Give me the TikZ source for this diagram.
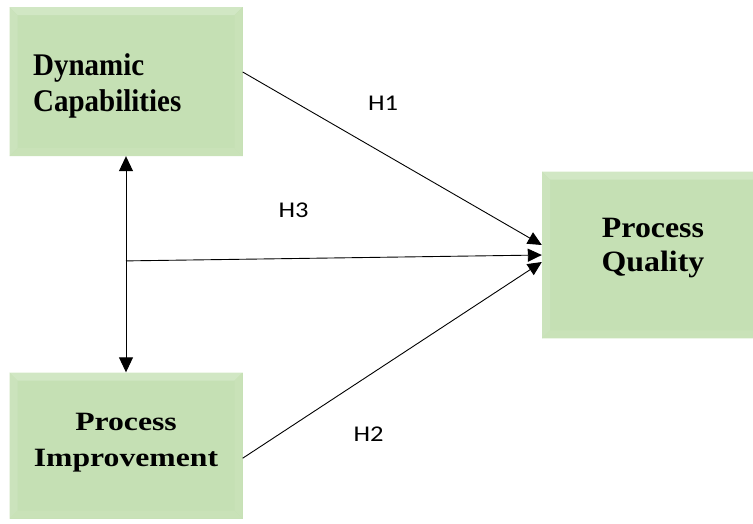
\documentclass[tikz,border=0pt]{standalone}
\usepackage{fontspec}
\usetikzlibrary{arrows.meta,calc}
\newfontfamily\boxfont{Liberation Serif}
\newfontfamily\hypfont{Carlito}
\definecolor{boxgreen}{HTML}{C5E0B4}
\definecolor{bevtop}{HTML}{D1E7C4}
\definecolor{bevside}{HTML}{CBE3BC}
\definecolor{bevlow}{HTML}{C9E2B8}
\tikzset{
  box/.style={fill=boxgreen, draw=none, inner sep=0pt, path picture={
    \fill[bevtop] (path picture bounding box.north west) -- (path picture bounding box.north east)
      -- ([shift={(-8pt,-8pt)}]path picture bounding box.north east) -- ([shift={(8pt,-8pt)}]path picture bounding box.north west) -- cycle;
    \fill[bevside] (path picture bounding box.north west) -- ([shift={(8pt,-8pt)}]path picture bounding box.north west)
      -- ([shift={(8pt,8pt)}]path picture bounding box.south west) -- (path picture bounding box.south west) -- cycle;
    \fill[bevlow] (path picture bounding box.north east) -- ([shift={(-8pt,-8pt)}]path picture bounding box.north east)
      -- ([shift={(-8pt,8pt)}]path picture bounding box.south east) -- (path picture bounding box.south east) -- cycle;
    \fill[bevlow] (path picture bounding box.south west) -- ([shift={(8pt,8pt)}]path picture bounding box.south west)
      -- ([shift={(-8pt,8pt)}]path picture bounding box.south east) -- (path picture bounding box.south east) -- cycle;
  }},
  boxtext/.style={inner sep=0pt, font=\boxfont\bfseries},
  hyp/.style={inner sep=0pt, anchor=base, xscale=1.18, font=\hypfont\fontsize{22.5}{27}\selectfont},
  link/.style={line width=0.9pt, -{Triangle[length=14pt,width=13pt]}},
  twoway/.style={line width=0.9pt, {Triangle[length=15pt,width=14pt]}-{Triangle[length=15pt,width=14pt]}}
}
\begin{document}
\begin{tikzpicture}[x=1pt,y=-1pt]
\clip (0,0) rectangle (753,523);
\useasboundingbox (0,0) rectangle (753,523);

% construct boxes
\node[box, minimum width=233pt, minimum height=149pt] (dc) at (126,81.5) {};
\node[box, minimum width=222pt, minimum height=166.6pt] (pq) at (653,255) {};
\node[box, minimum width=233pt, minimum height=146pt] (pi) at (126,445.5) {};

% box captions
\node[boxtext, anchor=base west, xscale=0.92, font=\boxfont\bfseries\fontsize{31.5}{36}\selectfont] (dc1) at (33,75) {Dynamic};
\node[boxtext, anchor=base west, xscale=0.92, font=\boxfont\bfseries\fontsize{31.5}{36}\selectfont] (dc2) at (33,111.7) {Capabilities};
\node[boxtext, anchor=base, xscale=1.08, font=\boxfont\bfseries\fontsize{29.5}{34}\selectfont] (pq1) at (653,237.3) {Process};
\node[boxtext, anchor=base, xscale=1.08, font=\boxfont\bfseries\fontsize{29.5}{34}\selectfont] (pq2) at (653,271.7) {Quality};
\node[boxtext, anchor=base, xscale=1.2, font=\boxfont\bfseries\fontsize{26.4}{32}\selectfont] (pi1) at (126,430) {Process};
\node[boxtext, anchor=base, xscale=1.2, font=\boxfont\bfseries\fontsize{26.4}{32}\selectfont] (pi2) at (126,466.7) {Improvement};

% correlation between the two antecedents
\draw[twoway] (dc.south) -- (pi.north);
\coordinate (j) at ($(dc.south)!0.4845!(pi.north)$);

% hypothesised paths
\draw[link] ([yshift=9.5pt]dc.east) -- ([yshift=10pt]pq.west);
\draw[link] (j) -- (pq.west);
\draw[link] ([yshift=-12.7pt]pi.east) -- ([yshift=-7pt]pq.west);

% path labels
\node[hyp] (h1) at (383,110.7) {H1};
\node[hyp] (h3) at (293.5,217.3) {H3};
\node[hyp] (h2) at (368.5,441) {H2};
\end{tikzpicture}
\end{document}
